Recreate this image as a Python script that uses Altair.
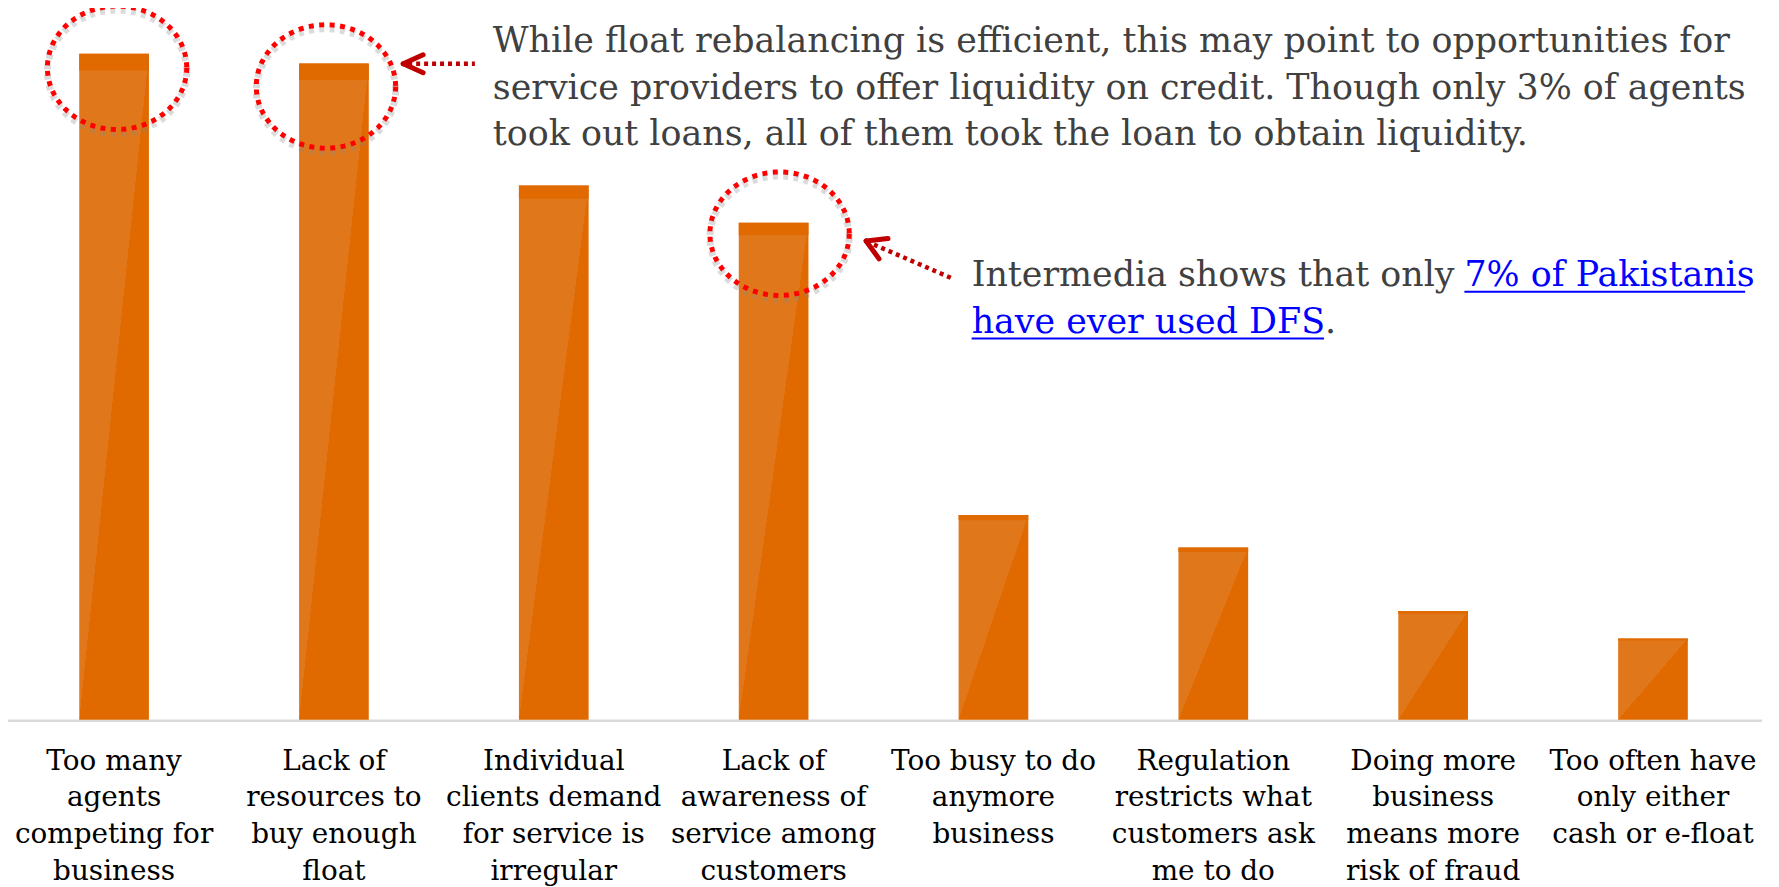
import altair as alt
import pandas as pd
import numpy as np

# ---- data ----
categories = [
    "Too many\nagents\ncompeting for\nbusiness",
    "Lack of\nresources to\nbuy enough\nfloat",
    "Individual\nclients demand\nfor service is\nirregular",
    "Lack of\nawareness of\nservice among\ncustomers",
    "Too busy to do\nanymore\nbusiness",
    "Regulation\nrestricts what\ncustomers ask\nme to do",
    "Doing more\nbusiness\nmeans more\nrisk of fraud",
    "Too often have\nonly either\ncash or e-float",
]
values = [41.0, 40.4, 32.9, 30.6, 12.6, 10.6, 6.7, 5.0]
highlighted = [0, 1, 3]  # indices of circled bars

note1_lines = [
    "While float rebalancing is efficient, this may point to opportunities for",
    "service providers to offer liquidity on credit. Though only 3% of agents",
    "took out loans, all of them took the loan to obtain liquidity.",
]
note2_text = "Intermedia shows that only"
note2_link1 = "7% of Pakistanis"
note2_link2 = "have ever used DFS"

df = pd.DataFrame({"cat": categories, "value": values})

# ---- styles ----
DARK = "#E06900"
LIGHT = "#E0781B"
FONT = "DejaVu Serif"
W, H = 1759, 713
NOTE_SIZE = 35

ang = np.linspace(0, 2 * np.pi, 97)[:-1]
ellipse = "M" + " L".join(f"{np.cos(a):.4f},{0.886*np.sin(a):.4f}" for a in ang) + " Z"

xscale = alt.Scale(domain=categories, paddingInner=0.683, paddingOuter=0.324)
xenc = alt.X("cat:N", scale=xscale, axis=None)
yenc = alt.Y("value:Q", scale=alt.Scale(domain=[0, 43.7], nice=False, zero=True), axis=None)

base = alt.Chart(df)
one = alt.Chart(alt.Data(values=[{"k": 1}]))

baseline_rule = one.mark_rule(color="#D9D9D9", strokeWidth=2.5).encode(
    x=alt.value(-2), x2=alt.value(1762), y=alt.value(H + 1), y2=alt.value(H + 1))

grad = alt.Gradient(
    gradient="linear",
    stops=[alt.GradientStop(color=LIGHT, offset=0),
           alt.GradientStop(color=LIGHT, offset=0.5),
           alt.GradientStop(color=DARK, offset=0.5),
           alt.GradientStop(color=DARK, offset=1)],
    x1=0, y1=0, x2=1, y2=1,
)
bars = base.mark_bar(color=grad).encode(x=xenc, y=yenc)
strip = base.transform_calculate(low="datum.value * 0.975").mark_bar(color=DARK).encode(
    x=xenc, y=alt.Y("value:Q", axis=None), y2="low:Q")

labels = base.mark_text(font=FONT, fontSize=28, lineHeight=37, lineBreak="\n",
                        align="center", baseline="alphabetic", color="#000000").encode(
    x=xenc, text="cat:N", y=alt.value(763))

offsets = {0: (3, 14), 1: (-8, 23), 3: (6, 11)}
circle_layers = []
for idx in highlighted:
    dx, dy = offsets[idx]
    sub = base.transform_filter(alt.FieldEqualPredicate(field="cat", equal=categories[idx]))
    circle_layers.append(sub.mark_point(shape=ellipse, size=19600, filled=False, color="#8a8a8a",
                                        opacity=0.3, strokeWidth=7, strokeDash=[5, 5.5],
                                        xOffset=dx, yOffset=dy + 4).encode(x=xenc, y=yenc))
    circle_layers.append(sub.mark_point(shape=ellipse, size=19600, filled=False, color="#FF0000",
                                        opacity=1, strokeWidth=5, strokeDash=[5, 5.5],
                                        xOffset=dx, yOffset=dy).encode(x=xenc, y=yenc))

ARROW = "#C00000"

def seg(x1, y1, x2, y2, dash=None, width=4.5):
    kw = dict(color=ARROW, strokeWidth=width)
    if dash:
        kw["strokeDash"] = dash
        kw["strokeCap"] = "butt"
    else:
        kw["strokeCap"] = "round"
    return one.mark_rule(**kw).encode(x=alt.value(x1), y=alt.value(y1),
                                      x2=alt.value(x2), y2=alt.value(y2))

arrows = [
    seg(402, 54, 469, 54, dash=[4, 4]),
    seg(397, 54, 417, 45, width=5),
    seg(397, 54, 417, 63, width=5),
    seg(947, 269, 866, 234, dash=[4, 4]),
    seg(862, 232, 884, 229.5, width=5),
    seg(862, 232, 875, 250, width=5),
]

note1 = one.mark_text(font=FONT, fontSize=NOTE_SIZE, lineHeight=47, lineBreak="\n", align="left",
                      baseline="alphabetic", color="#404040").encode(
    x=alt.value(487), y=alt.value(42), text=alt.value("\n".join(note1_lines)))

note2a = one.mark_text(font=FONT, fontSize=NOTE_SIZE, align="left", baseline="alphabetic",
                       color="#404040").encode(x=alt.value(968), y=alt.value(277),
                                               text=alt.value(note2_text))
note2b = one.mark_text(font=FONT, fontSize=NOTE_SIZE, align="left", baseline="alphabetic",
                       color="#0000FF").encode(x=alt.value(1463), y=alt.value(277),
                                               text=alt.value(note2_link1))
note2c = one.mark_text(font=FONT, fontSize=NOTE_SIZE, align="left", baseline="alphabetic",
                       color="#0000FF").encode(x=alt.value(968), y=alt.value(324),
                                               text=alt.value(note2_link2))
note2d = one.mark_text(font=FONT, fontSize=NOTE_SIZE, align="left", baseline="alphabetic",
                       color="#404040").encode(x=alt.value(1323), y=alt.value(324),
                                               text=alt.value("."))
ul1 = one.mark_rule(color="#0000FF", strokeWidth=2).encode(
    x=alt.value(1463), x2=alt.value(1745), y=alt.value(283), y2=alt.value(283))
ul2 = one.mark_rule(color="#0000FF", strokeWidth=2).encode(
    x=alt.value(968), x2=alt.value(1322), y=alt.value(330), y2=alt.value(330))

chart = alt.layer(
    baseline_rule, bars, strip, labels, *circle_layers, *arrows,
    note1, note2a, note2b, note2c, note2d, ul1, ul2
).properties(
    width=W, height=H,
    autosize=alt.AutoSizeParams(type="none"),
    padding={"left": 0, "top": 0, "right": 12, "bottom": 166},
    background="white",
).configure_view(stroke=None)

chart.save("out.html", embed_options={"renderer": "svg", "actions": False})
